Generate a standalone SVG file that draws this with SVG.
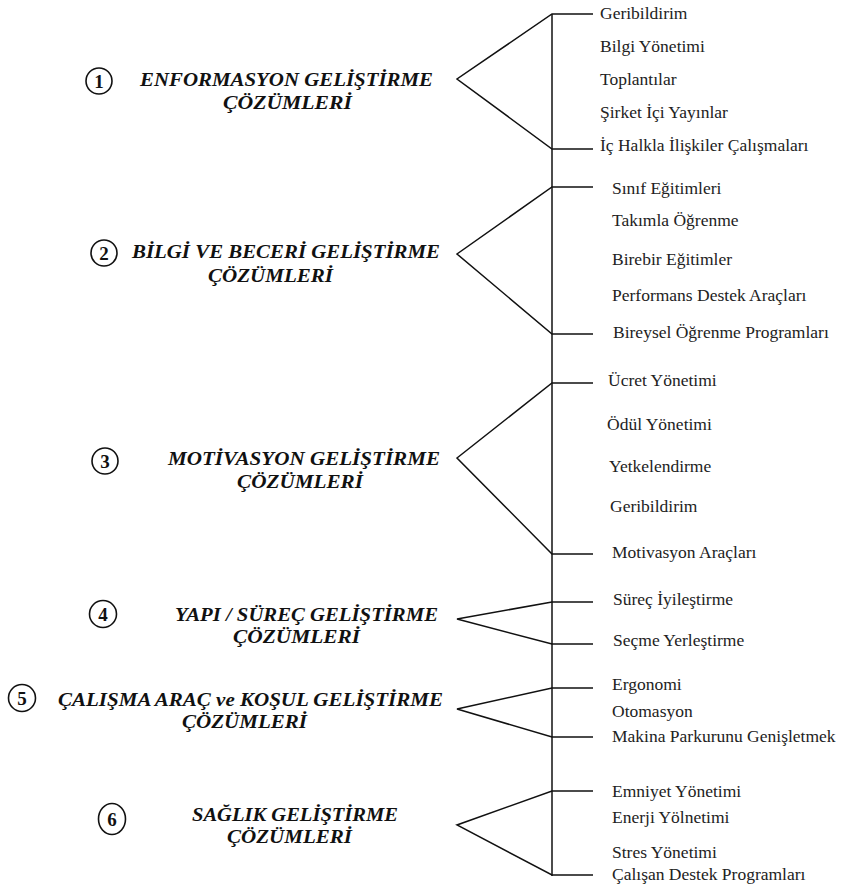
<svg xmlns="http://www.w3.org/2000/svg" width="846" height="890" viewBox="0 0 846 890">
<style>
.h{font-family:"Liberation Serif","Tinos","Times New Roman","DejaVu Serif",serif;font-weight:bold;font-style:italic;font-size:18.5px;fill:#111}
.it{font-family:"Liberation Serif","Tinos","Times New Roman","DejaVu Serif",serif;font-weight:normal;font-style:normal;font-size:17.5px;fill:#222}
.nc{fill:none;stroke:#111;stroke-width:1.6}
.nt{font-family:"Liberation Serif","Tinos","Times New Roman","DejaVu Serif",serif;font-weight:bold;font-size:19px;fill:#111;text-anchor:middle}
.c{fill:none;stroke:#111;stroke-width:1.5;stroke-linejoin:miter}
</style>
<rect width="846" height="890" fill="#fff"/>
<g id="connectors">
<line class="c" x1="552" y1="14" x2="552" y2="876"/>
<polyline class="c" points="593,14 552,14 457,79 552,149 593,149"/>
<polyline class="c" points="593,187 552,187 457,254 552,334 593,334"/>
<polyline class="c" points="593,383 552,383 457,458 552,554 593,554"/>
<polyline class="c" points="593,602 552,602 457,619 552,644 593,644"/>
<polyline class="c" points="593,688 552,688 457,709 552,737 593,737"/>
<polyline class="c" points="593,791 552,791 457,825 552,875 593,875"/>
</g>
<g id="h1">
<circle class="nc" cx="99" cy="81" r="13"/><text class="nt" x="99" y="87.5">1</text>
<text class="h" x="140" y="86" textLength="293" lengthAdjust="spacingAndGlyphs">ENFORMASYON GELİŞTİRME</text>
<text class="h" x="223" y="108.5" textLength="129" lengthAdjust="spacingAndGlyphs">ÇÖZÜMLERİ</text>
</g>
<g id="h2">
<circle class="nc" cx="104" cy="253" r="13"/><text class="nt" x="104" y="259.5">2</text>
<text class="h" x="132" y="258" textLength="308" lengthAdjust="spacingAndGlyphs">BİLGİ VE BECERİ GELİŞTİRME</text>
<text class="h" x="208" y="282" textLength="125" lengthAdjust="spacingAndGlyphs">ÇÖZÜMLERİ</text>
</g>
<g id="h3">
<circle class="nc" cx="105" cy="461" r="13"/><text class="nt" x="105" y="467.5">3</text>
<text class="h" x="168" y="465" textLength="272" lengthAdjust="spacingAndGlyphs">MOTİVASYON GELİŞTİRME</text>
<text class="h" x="237" y="488" textLength="126" lengthAdjust="spacingAndGlyphs">ÇÖZÜMLERİ</text>
</g>
<g id="h4">
<circle class="nc" cx="103" cy="614" r="13.5"/><text class="nt" x="103" y="620.5">4</text>
<text class="h" x="175" y="621" textLength="263" lengthAdjust="spacingAndGlyphs">YAPI / SÜREÇ GELİŞTİRME</text>
<text class="h" x="233" y="643" textLength="127" lengthAdjust="spacingAndGlyphs">ÇÖZÜMLERİ</text>
</g>
<g id="h5">
<circle class="nc" cx="22" cy="698" r="13.5"/><text class="nt" x="22" y="704.5">5</text>
<text class="h" x="58" y="706" textLength="385" lengthAdjust="spacingAndGlyphs">ÇALIŞMA ARAÇ ve KOŞUL GELİŞTİRME</text>
<text class="h" x="182" y="728" textLength="125" lengthAdjust="spacingAndGlyphs">ÇÖZÜMLERİ</text>
</g>
<g id="h6">
<ellipse class="nc" cx="112" cy="819" rx="13.5" ry="15.5"/><text class="nt" x="112" y="825.5">6</text>
<text class="h" x="192" y="821" textLength="206" lengthAdjust="spacingAndGlyphs">SAĞLIK GELİŞTİRME</text>
<text class="h" x="227" y="843" textLength="125" lengthAdjust="spacingAndGlyphs">ÇÖZÜMLERİ</text>
</g>
<g id="s1items">
<g id="i1a"><text class="it" x="600" y="19">Geribildirim</text></g>
<g id="i1b"><text class="it" x="600" y="52">Bilgi Yönetimi</text></g>
<g id="i1c"><text class="it" x="600" y="85">Toplantılar</text></g>
<g id="i1d"><text class="it" x="600" y="118">Şirket İçi Yayınlar</text></g>
<g id="i1e"><text class="it" x="600" y="151">İç Halkla İlişkiler Çalışmaları</text></g>
</g>
<g id="s2items">
<g id="i2a"><text class="it" x="612" y="194">Sınıf Eğitimleri</text></g>
<g id="i2b"><text class="it" x="612" y="226">Takımla Öğrenme</text></g>
<g id="i2c"><text class="it" x="612" y="265">Birebir Eğitimler</text></g>
<g id="i2d"><text class="it" x="612" y="301">Performans Destek Araçları</text></g>
<g id="i2e"><text class="it" x="613" y="338">Bireysel Öğrenme Programları</text></g>
</g>
<g id="s3items">
<g id="i3a"><text class="it" x="608" y="386">Ücret Yönetimi</text></g>
<g id="i3b"><text class="it" x="607" y="430">Ödül Yönetimi</text></g>
<g id="i3c"><text class="it" x="609" y="472">Yetkelendirme</text></g>
<g id="i3d"><text class="it" x="610" y="512">Geribildirim</text></g>
<g id="i3e"><text class="it" x="612" y="558">Motivasyon Araçları</text></g>
</g>
<g id="s4items">
<g id="i4a"><text class="it" x="613" y="605">Süreç İyileştirme</text></g>
<g id="i4b"><text class="it" x="613" y="646">Seçme Yerleştirme</text></g>
</g>
<g id="s5items">
<g id="i5a"><text class="it" x="612" y="690">Ergonomi</text></g>
<g id="i5b"><text class="it" x="612" y="717">Otomasyon</text></g>
<g id="i5c"><text class="it" x="612" y="742">Makina Parkurunu Genişletmek</text></g>
</g>
<g id="s6items">
<g id="i6a"><text class="it" x="612" y="797">Emniyet Yönetimi</text></g>
<g id="i6b"><text class="it" x="612" y="823">Enerji Yölnetimi</text></g>
<g id="i6c"><text class="it" x="612" y="858">Stres Yönetimi</text></g>
<g id="i6d"><text class="it" x="612" y="880">Çalışan Destek Programları</text></g>
</g>
</svg>
